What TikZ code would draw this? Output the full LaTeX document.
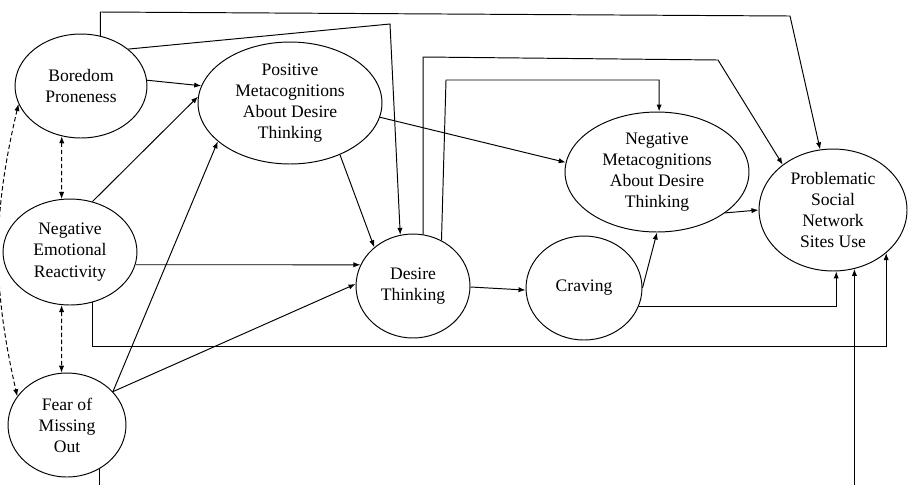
\documentclass[tikz,border=0pt]{standalone}
\usepackage{fontspec}
\setmainfont{Liberation Serif}
\usetikzlibrary{shapes.geometric,arrows.meta}

\begin{document}
\begin{tikzpicture}[x=0.02cm,y=-0.02cm,line width=0.55pt,
	>={Latex[length=4pt,width=3pt]},
	var/.style={shape=ellipse,draw,inner sep=0pt,align=center},
	corr/.style={<->,dash pattern=on 2.5pt off 1.5pt}]
	\useasboundingbox (0,0) rectangle (911,484);
	\clip (0,0) rectangle (911,484);

	\node[var,minimum width=2.64cm,minimum height=2.08cm] (bp) at (81,86) {Boredom\\Proneness};
	\node[var,minimum width=2.68cm,minimum height=2.12cm] (ner) at (70,252) {Negative\\Emotional\\Reactivity};
	\node[var,minimum width=2.36cm,minimum height=2.08cm] (fomo) at (67,425) {Fear of\\Missing\\Out};
	\node[var,minimum width=3.68cm,minimum height=2.44cm] (pm) at (290,103) {Positive\\Metacognitions\\About Desire\\Thinking};
	\node[var,minimum width=2.28cm,minimum height=2.08cm] (dt) at (413,286) {Desire\\Thinking};
	\node[var,minimum width=2.32cm,minimum height=2.08cm] (cr) at (584,288) {Craving};
	\node[var,minimum width=3.68cm,minimum height=2.40cm] (nm) at (657,172) {Negative\\Metacognitions\\About Desire\\Thinking};
	\node[var,minimum width=2.96cm,minimum height=2.44cm] (ps) at (833,210) {Problematic\\Social\\Network\\Sites Use};

	\path [->] (bp.5) edge (pm.169);
	\path [->] (ner.66) edge (pm.176);
	\path [->] (fomo.36) edge (pm.208);
	\path [->] (fomo.36) edge (dt.178);
	\path [->] (ner.-11) edge (dt.158);
	\path [->] (pm.-46) edge (dt.135);
	\path [->] (pm.-9) edge (nm.174);
	\path [->] (dt.-1) edge (cr.182);
	\path [->] (cr.east) edge (nm.south);
	\path [->] (nm.-31) edge (ps.west);

	\draw [->] (bp.69) -- (bp.69 |- 0,12) -- (790,16) -- (ps.102);
	\draw [->] (bp.38) -- (390,24) -- (dt.104);
	\draw [->] (dt.79) -- (dt.79 |- 0,57) -- (718,60) -- (ps.138);
	\draw [->] (dt.58) -- (446,80) -| (nm.88);
	\draw [->] (cr.-19) -| (ps.-87);
	\draw [->] (ner.-66) -- (ner.-66 |- 0,346) -| (ps.-39);
	\draw [->] (fomo.-54) -- (fomo.-54 |- 0,500) -| (ps.-70);

	\path [corr] (bp.-111) edge (ner.99);
	\path [corr] (ner.-99) edge (fomo.96);
	\path [corr] (bp.196) edge[bend right=13] (fomo.150);
\end{tikzpicture}
\end{document}
